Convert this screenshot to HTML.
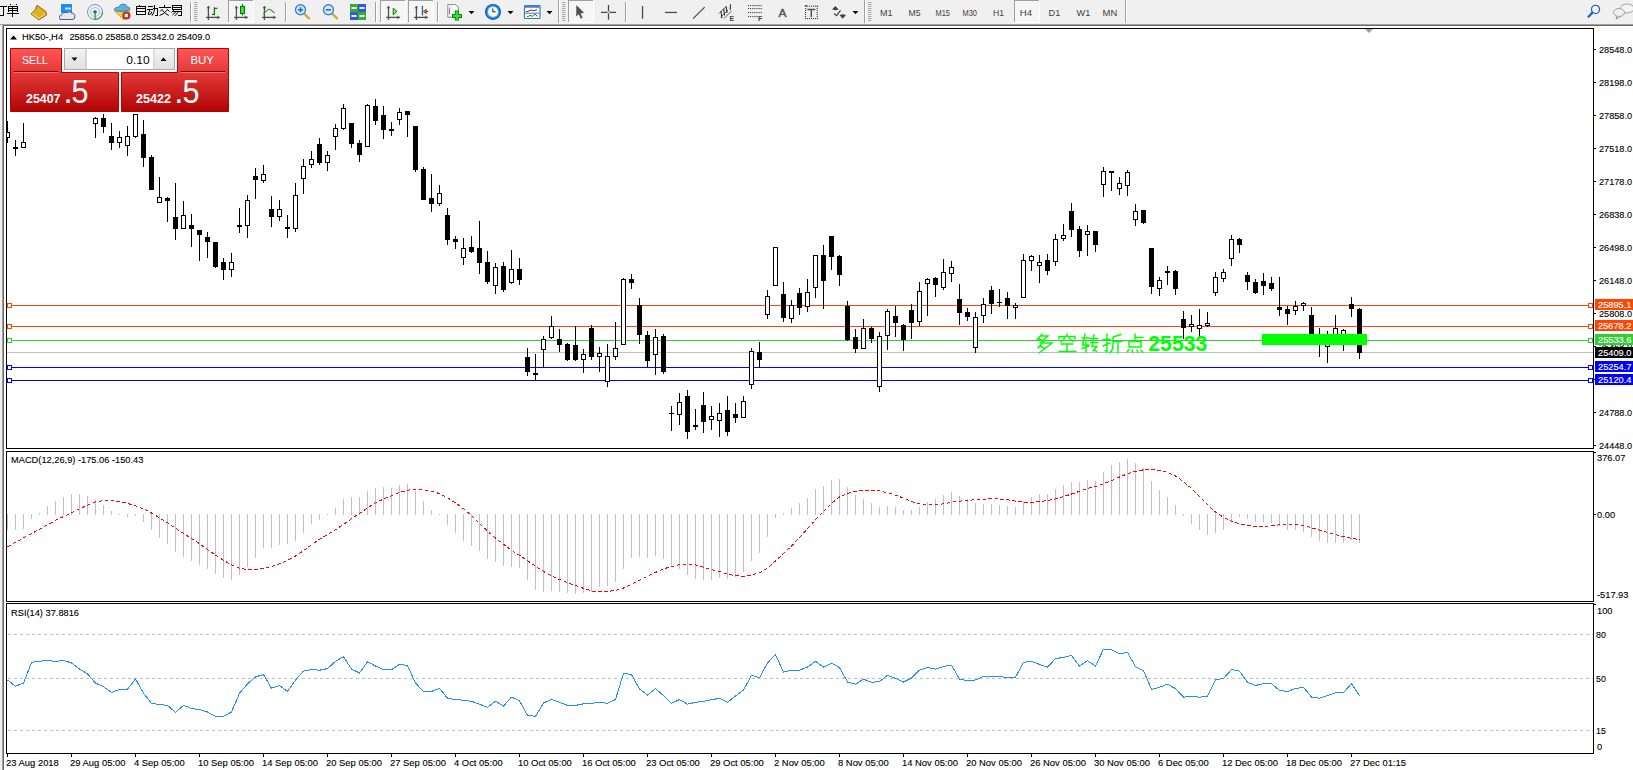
<!DOCTYPE html>
<html><head><meta charset="utf-8"><style>
html,body{margin:0;padding:0;background:#f0f0f0;width:1633px;height:770px;overflow:hidden}
svg{display:block;position:absolute;left:0;top:0}
</style></head><body>
<svg width="1633" height="770" viewBox="0 0 1633 770">
<rect x="0" y="0" width="1633" height="24" fill="#f0f0f0"/>
<path d="M36.9 5.3L45.8 11.5L46.7 14.9L38.7 19.8L31 13.9L35.3 9.7Z" fill="#e2b020" stroke="#9a5c10" stroke-width="1"/><path d="M32 13.5L38.8 18.5L45.5 14" fill="none" stroke="#f6e090" stroke-width="1"/><rect x="61" y="4" width="11" height="9" fill="#1890f0"/><rect x="65" y="7.5" width="6" height="2" fill="#c8e8ff"/><path d="M60 19.5Q58.5 15 62 14.5Q63 11.5 67 12.5Q69.5 10.5 71.5 13Q75.5 13 74.8 17Q75 19.5 72 19.5Z" fill="#e4e8f0" stroke="#4a5a8a" stroke-width="1"/><circle cx="95" cy="12" r="7.5" fill="none" stroke="#5080d0" stroke-width="1" opacity="0.8"/><circle cx="95" cy="12" r="4.5" fill="none" stroke="#90b8d8" stroke-width="1" opacity="0.8"/><path d="M95 19.5A7.5 7.5 0 0 0 102.5 12" fill="none" stroke="#40a040" stroke-width="1.2"/><circle cx="95" cy="12" r="1.8" fill="#2050c0"/><rect x="94.6" y="12" width="1.2" height="8" fill="#20a020"/><path d="M114.5 11L124 20L128 14L130 10Z" fill="#f0d040" stroke="#c09020" stroke-width="0.8"/><path d="M114 9.5Q115 7 119 7Q120 4 123 4Q127 4 127 7Q130 7 130 9Q128 11 122 11.5Q116 11.5 114 9.5Z" fill="#60b0e0" stroke="#2080b0" stroke-width="0.8"/><circle cx="126.4" cy="15.5" r="4" fill="#d02010"/><rect x="124.7" y="13.8" width="3.4" height="3.4" fill="#fff"/><rect x="139" y="5" width="1" height="1" fill="#000"/><rect x="136" y="6" width="1" height="9" fill="#000"/><rect x="145" y="6" width="1" height="9" fill="#000"/><rect x="136" y="6" width="10" height="1" fill="#000"/><rect x="137" y="8" width="8" height="1" fill="#000"/><rect x="137" y="11" width="8" height="1" fill="#000"/><rect x="137" y="14" width="8" height="1" fill="#000"/><rect x="148" y="6" width="5" height="1" fill="#000"/><rect x="147" y="9" width="6" height="1" fill="#000"/><rect x="153" y="8" width="5" height="1" fill="#000"/><rect x="157" y="8" width="1" height="7" fill="#000"/><rect x="155" y="15" width="3" height="1" fill="#000"/><path d="M154.5 5V9Q154.2 13 152 15.8M149.8 9.5L148.2 14.5L151.6 13.8M151 11.5L152 13.5" stroke="#000" stroke-width="1" fill="none"/><rect x="164" y="5" width="1" height="2" fill="#000"/><rect x="159" y="7" width="12" height="1" fill="#000"/><path d="M162.5 9L160 11.5M166.8 9L169.5 11.5M162.3 10.2Q165 14 168.8 15.5M167 10.2Q164.5 14 159.5 15.5" stroke="#000" stroke-width="1" fill="none"/><rect x="172" y="5" width="1" height="5" fill="#000"/><rect x="181" y="5" width="1" height="5" fill="#000"/><rect x="172" y="5" width="10" height="1" fill="#000"/><rect x="173" y="7" width="8" height="1" fill="#000"/><rect x="173" y="9" width="8" height="1" fill="#000"/><rect x="173" y="11" width="9" height="1" fill="#000"/><rect x="181" y="11" width="1" height="5" fill="#000"/><rect x="178" y="15" width="3" height="1" fill="#000"/><path d="M174 10.2L171.5 12.5M176.3 11.5L172.5 15M178.8 11.5L175 15.8" stroke="#000" stroke-width="1" fill="none"/><rect x="0" y="6" width="7" height="1" fill="#000"/><rect x="3" y="6" width="1" height="10" fill="#000"/><rect x="0" y="15" width="3" height="1" fill="#000"/><rect x="10" y="4" width="1" height="1" fill="#000"/><rect x="16" y="4" width="1" height="1" fill="#000"/><rect x="8" y="6" width="1" height="6" fill="#000"/><rect x="17" y="6" width="1" height="6" fill="#000"/><rect x="8" y="6" width="10" height="1" fill="#000"/><rect x="9" y="8" width="8" height="1" fill="#000"/><rect x="9" y="10" width="8" height="1" fill="#000"/><rect x="12" y="6" width="1" height="11" fill="#000"/><rect x="7" y="13" width="12" height="1" fill="#000"/><rect x="190" y="2" width="1" height="20" fill="#a0a0a0"/><rect x="191" y="2" width="1" height="20" fill="#ffffff"/><rect x="194" y="2" width="3.5" height="1" fill="#a8a8a8"/><rect x="194" y="4" width="3.5" height="1" fill="#a8a8a8"/><rect x="194" y="6" width="3.5" height="1" fill="#a8a8a8"/><rect x="194" y="8" width="3.5" height="1" fill="#a8a8a8"/><rect x="194" y="10" width="3.5" height="1" fill="#a8a8a8"/><rect x="194" y="12" width="3.5" height="1" fill="#a8a8a8"/><rect x="194" y="14" width="3.5" height="1" fill="#a8a8a8"/><rect x="194" y="16" width="3.5" height="1" fill="#a8a8a8"/><rect x="194" y="18" width="3.5" height="1" fill="#a8a8a8"/><rect x="194" y="20" width="3.5" height="1" fill="#a8a8a8"/><rect x="207.75" y="6" width="1.3" height="14" fill="#505050"/><rect x="206.00" y="16.75" width="13.8" height="1.3" fill="#505050"/><path d="M206.60 8.2L208.40 6L210.20 8.2Z" fill="#505050"/><path d="M217.20 15.60L219.70 17.40L217.20 19.20Z" fill="#505050"/><path d="M214.4 7.3V15.2M214.4 8.4H217.4M214.4 14.4H212" fill="none" stroke="#008000" stroke-width="1.3"/><rect x="228" y="0" width="26" height="23" fill="#ffffff"/><rect x="229" y="1" width="24" height="21" fill="#f6f6f6"/><rect x="228" y="0" width="25" height="1" fill="#a0a0a0"/><rect x="228" y="0" width="1" height="22" fill="#a0a0a0"/><rect x="235.75" y="6" width="1.3" height="14" fill="#505050"/><rect x="234.00" y="16.75" width="13.8" height="1.3" fill="#505050"/><path d="M234.60 8.2L236.40 6L238.20 8.2Z" fill="#505050"/><path d="M245.20 15.60L247.70 17.40L245.20 19.20Z" fill="#505050"/><rect x="240.5" y="6.5" width="4" height="7" fill="#40e040" stroke="#008000" stroke-width="1.1"/><path d="M242.5 4V6.5M242.5 13.5V15.6" stroke="#008000" stroke-width="1.1"/><rect x="263.75" y="6" width="1.3" height="14" fill="#505050"/><rect x="262.00" y="16.75" width="13.8" height="1.3" fill="#505050"/><path d="M262.60 8.2L264.40 6L266.20 8.2Z" fill="#505050"/><path d="M273.20 15.60L275.70 17.40L273.20 19.20Z" fill="#505050"/><path d="M263.2 14.5Q266 11 268 9.6Q269.5 8.8 271 10L274.5 13" fill="none" stroke="#30a030" stroke-width="1.1"/><rect x="285" y="2" width="1" height="20" fill="#a0a0a0"/><rect x="286" y="2" width="1" height="20" fill="#ffffff"/><path d="M304.5 14L309.0 18.5" stroke="#d4a830" stroke-width="2.4" stroke-linecap="round"/><circle cx="300.5" cy="9.8" r="5" fill="#d4ecff" stroke="#3a84d0" stroke-width="1.4"/><path d="M297.9 9.8H303.1" stroke="#2a6cc0" stroke-width="1.6"/><path d="M300.5 7.2V12.4" stroke="#2a6cc0" stroke-width="1.6"/><path d="M332.5 14L337.0 18.5" stroke="#d4a830" stroke-width="2.4" stroke-linecap="round"/><circle cx="328.5" cy="9.8" r="5" fill="#d4ecff" stroke="#3a84d0" stroke-width="1.4"/><path d="M325.9 9.8H331.1" stroke="#2a6cc0" stroke-width="1.6"/><rect x="350" y="4" width="8" height="8" fill="#40a830"/><rect x="358" y="4" width="8" height="8" fill="#2a5fd0"/><rect x="350" y="12" width="8" height="8" fill="#2a5fd0"/><rect x="358" y="12" width="8" height="8" fill="#40a830"/><path d="M351.5 8H356.5M359.5 8H364.5M351.5 16H356.5M359.5 16H364.5" stroke="#fff" stroke-width="2"/><path d="M352.5 8H355.5M360.5 8H363.5M352.5 16H355.5M360.5 16H363.5" stroke="#a0c0a0" stroke-width="0.6"/><rect x="375" y="2" width="1" height="20" fill="#a0a0a0"/><rect x="376" y="2" width="1" height="20" fill="#ffffff"/><rect x="380" y="0" width="26" height="23" fill="#ffffff"/><rect x="381" y="1" width="24" height="21" fill="#f6f6f6"/><rect x="380" y="0" width="25" height="1" fill="#a0a0a0"/><rect x="380" y="0" width="1" height="22" fill="#a0a0a0"/><rect x="387.85" y="6" width="1.3" height="14" fill="#505050"/><rect x="386.10" y="16.75" width="13.8" height="1.3" fill="#505050"/><path d="M386.70 8.2L388.50 6L390.30 8.2Z" fill="#505050"/><path d="M397.30 15.60L399.80 17.40L397.30 19.20Z" fill="#505050"/><path d="M393.2 8L397 11.5L393.2 15Z" fill="#60f060" stroke="#009000" stroke-width="1"/><rect x="408" y="0" width="26" height="23" fill="#ffffff"/><rect x="409" y="1" width="24" height="21" fill="#f6f6f6"/><rect x="408" y="0" width="25" height="1" fill="#a0a0a0"/><rect x="408" y="0" width="1" height="22" fill="#a0a0a0"/><rect x="415.75" y="6" width="1.3" height="14" fill="#505050"/><rect x="414.00" y="16.75" width="13.8" height="1.3" fill="#505050"/><path d="M414.60 8.2L416.40 6L418.20 8.2Z" fill="#505050"/><path d="M425.20 15.60L427.70 17.40L425.20 19.20Z" fill="#505050"/><rect x="421.8" y="6" width="1.3" height="9.5" fill="#1a6a9a"/><path d="M428 11.5H424.5" stroke="#902000" stroke-width="1.3"/><path d="M423.4 11.5L426.2 9.2V13.8Z" fill="#ff6010" stroke="#902000" stroke-width="0.6"/><rect x="437" y="2" width="1" height="20" fill="#a0a0a0"/><rect x="438" y="2" width="1" height="20" fill="#ffffff"/><path d="M447.8 4.6H455.8L458.3 7.1V17.2H447.8Z" fill="#fafafa" stroke="#8a8a8a" stroke-width="1"/><path d="M450.6 7.5Q449.5 8 449.5 10V14" stroke="#404040" stroke-width="0.7" fill="none"/><path d="M456.8 10.5V20.5M452 15.9H462" stroke="#007a00" stroke-width="4"/><path d="M456.8 11.3V19.7M452.8 15.9H461.2" stroke="#30e030" stroke-width="2.2"/><path d="M468.5 11h6l-3 3.2z" fill="#000"/><circle cx="493" cy="11.9" r="8" fill="#0a5cc0"/><circle cx="493" cy="11.9" r="6.6" fill="#3a9af0"/><circle cx="493" cy="11.9" r="5.1" fill="#f8f8f8"/><path d="M492.8 8.5V11.8H495.5" stroke="#202020" stroke-width="1" fill="none"/><path d="M507.5 11h6l-3 3.2z" fill="#000"/><rect x="524.5" y="5.5" width="15.5" height="13" rx="0.8" fill="#fff" stroke="#3a78c8" stroke-width="1.2"/><rect x="525" y="6" width="14.5" height="1.8" fill="#4a88d8"/><path d="M525.2 13.2H539.5" stroke="#3a78c8" stroke-width="1"/><path d="M526 11.5H528L530 10.2H531.5L533 10.5H535L537 9.5" stroke="#a02010" stroke-width="1" fill="none"/><path d="M527 16.4H528.5L530 15.3L532 16.4L535 14.2L537.5 16.4" stroke="#108010" stroke-width="1" fill="none"/><path d="M546.5 11h6l-3 3.2z" fill="#000"/><rect x="558" y="0" width="1" height="23" fill="#a0a0a0"/><rect x="559" y="0" width="1" height="23" fill="#fff"/><rect x="562" y="2" width="3.5" height="1" fill="#a8a8a8"/><rect x="562" y="4" width="3.5" height="1" fill="#a8a8a8"/><rect x="562" y="6" width="3.5" height="1" fill="#a8a8a8"/><rect x="562" y="8" width="3.5" height="1" fill="#a8a8a8"/><rect x="562" y="10" width="3.5" height="1" fill="#a8a8a8"/><rect x="562" y="12" width="3.5" height="1" fill="#a8a8a8"/><rect x="562" y="14" width="3.5" height="1" fill="#a8a8a8"/><rect x="562" y="16" width="3.5" height="1" fill="#a8a8a8"/><rect x="562" y="18" width="3.5" height="1" fill="#a8a8a8"/><rect x="562" y="20" width="3.5" height="1" fill="#a8a8a8"/><rect x="568" y="0" width="26" height="23" fill="#ffffff"/><rect x="569" y="1" width="24" height="21" fill="#f6f6f6"/><rect x="568" y="0" width="25" height="1" fill="#a0a0a0"/><rect x="568" y="0" width="1" height="22" fill="#a0a0a0"/><path d="M576.3 5V16.5L578.8 14.2L580.8 18.8L582.6 18L580.6 13.4L584 12.8Z" fill="#505050"/><path d="M601 12.45H607.6M609.4 12.45H616M608.5 5V11.6M608.5 13.3V19.8" stroke="#4a4a4a" stroke-width="1.3"/><rect x="625" y="2" width="1" height="20" fill="#a0a0a0"/><rect x="626" y="2" width="1" height="20" fill="#ffffff"/><rect x="641.9" y="6" width="1.3" height="12.8" fill="#4a4a4a"/><rect x="665" y="11.8" width="12" height="1.3" fill="#4a4a4a"/><path d="M693.1 18.6L704.7 7.1" stroke="#4a4a4a" stroke-width="1.2"/><path d="M719 13.5L726.5 6M720.5 17.5L728 10M724 18.5L731.5 11" stroke="#4a4a4a" stroke-width="0.9"/><path d="M721 11L721.8 18M723.6 8.7L724.6 15.4M726.2 6.5L727 13M730.5 4.2L730.2 10" stroke="#303030" stroke-width="1.1"/><text x="729.6" y="21" style="font-family:'Liberation Sans',sans-serif;font-size:7px;font-weight:bold" fill="#404040">E</text><g fill="#404040"><rect x="748.00" y="5" width="1.1" height="1.1"/><rect x="750.10" y="5" width="1.1" height="1.1"/><rect x="752.20" y="5" width="1.1" height="1.1"/><rect x="754.30" y="5" width="1.1" height="1.1"/><rect x="756.40" y="5" width="1.1" height="1.1"/><rect x="758.50" y="5" width="1.1" height="1.1"/><rect x="760.60" y="5" width="1.1" height="1.1"/><rect x="748.00" y="8" width="1.1" height="1.1"/><rect x="750.10" y="8" width="1.1" height="1.1"/><rect x="752.20" y="8" width="1.1" height="1.1"/><rect x="754.30" y="8" width="1.1" height="1.1"/><rect x="756.40" y="8" width="1.1" height="1.1"/><rect x="758.50" y="8" width="1.1" height="1.1"/><rect x="760.60" y="8" width="1.1" height="1.1"/><rect x="748.00" y="12" width="1.1" height="1.1"/><rect x="750.10" y="12" width="1.1" height="1.1"/><rect x="752.20" y="12" width="1.1" height="1.1"/><rect x="754.30" y="12" width="1.1" height="1.1"/><rect x="756.40" y="12" width="1.1" height="1.1"/><rect x="758.50" y="12" width="1.1" height="1.1"/><rect x="760.60" y="12" width="1.1" height="1.1"/><rect x="748.00" y="16" width="1.1" height="1.1"/><rect x="750.15" y="16" width="1.1" height="1.1"/><rect x="752.30" y="16" width="1.1" height="1.1"/><rect x="754.45" y="16" width="1.1" height="1.1"/><rect x="756.60" y="16" width="1.1" height="1.1"/></g><text x="758" y="21" style="font-family:'Liberation Sans',sans-serif;font-size:7px;font-weight:bold" fill="#404040">F</text><text x="778.6" y="17" textLength="8" lengthAdjust="spacingAndGlyphs" style="font-family:'Liberation Sans',sans-serif;font-size:11.5px" fill="#505050" stroke="#505050" stroke-width="0.4">A</text><g fill="#404040"><rect x="805.0" y="18" width="1.1" height="1.1"/><rect x="807.0" y="18" width="1.1" height="1.1"/><rect x="809.0" y="18" width="1.1" height="1.1"/><rect x="811.0" y="18" width="1.1" height="1.1"/><rect x="813.0" y="18" width="1.1" height="1.1"/><rect x="815.0" y="18" width="1.1" height="1.1"/><rect x="817.0" y="18" width="1.1" height="1.1"/><rect x="807.0" y="5.6" width="1.1" height="1.1"/><rect x="809.0" y="5.6" width="1.1" height="1.1"/><rect x="811.0" y="5.6" width="1.1" height="1.1"/><rect x="813.0" y="5.6" width="1.1" height="1.1"/><rect x="815.0" y="5.6" width="1.1" height="1.1"/><rect x="817.0" y="5.6" width="1.1" height="1.1"/><rect x="805" y="8.0" width="1.1" height="1.1"/><rect x="816.6" y="6.0" width="1.1" height="1.1"/><rect x="805" y="10.0" width="1.1" height="1.1"/><rect x="816.6" y="8.0" width="1.1" height="1.1"/><rect x="805" y="12.0" width="1.1" height="1.1"/><rect x="816.6" y="10.0" width="1.1" height="1.1"/><rect x="805" y="14.0" width="1.1" height="1.1"/><rect x="816.6" y="12.0" width="1.1" height="1.1"/><rect x="805" y="16.0" width="1.1" height="1.1"/><rect x="816.6" y="14.0" width="1.1" height="1.1"/><rect x="805" y="18.0" width="1.1" height="1.1"/><rect x="816.6" y="16.0" width="1.1" height="1.1"/></g><rect x="804.8" y="5" width="2" height="1.6" fill="#404040"/><path d="M807.3 9.4H815.3M811.3 9.4V17" stroke="#505050" stroke-width="1.5"/><path d="M832 9.6L835.4 6L838.6 9.6L835.4 10.2Z M839.6 15L842.6 18.8L846 15L842.6 14.2Z" fill="#404040"/><path d="M834 13.5L836.5 15.6L840.6 10.4" stroke="#404040" stroke-width="1.2" fill="none"/><path d="M852.5 11h6l-3 3.2z" fill="#000"/><rect x="864" y="0" width="1" height="23" fill="#a0a0a0"/><rect x="865" y="0" width="1" height="23" fill="#fff"/><rect x="868" y="2" width="3.5" height="1" fill="#a8a8a8"/><rect x="868" y="4" width="3.5" height="1" fill="#a8a8a8"/><rect x="868" y="6" width="3.5" height="1" fill="#a8a8a8"/><rect x="868" y="8" width="3.5" height="1" fill="#a8a8a8"/><rect x="868" y="10" width="3.5" height="1" fill="#a8a8a8"/><rect x="868" y="12" width="3.5" height="1" fill="#a8a8a8"/><rect x="868" y="14" width="3.5" height="1" fill="#a8a8a8"/><rect x="868" y="16" width="3.5" height="1" fill="#a8a8a8"/><rect x="868" y="18" width="3.5" height="1" fill="#a8a8a8"/><rect x="868" y="20" width="3.5" height="1" fill="#a8a8a8"/><rect x="1014" y="0" width="26" height="23" fill="#ffffff"/><rect x="1015" y="1" width="24" height="21" fill="#f6f6f6"/><rect x="1014" y="0" width="25" height="1" fill="#a0a0a0"/><rect x="1014" y="0" width="1" height="22" fill="#a0a0a0"/><text x="880" y="16" textLength="12.5" lengthAdjust="spacingAndGlyphs" style="font-family:'Liberation Sans',sans-serif;font-size:9.8px" fill="#404040">M1</text><text x="908.5" y="16" textLength="12" lengthAdjust="spacingAndGlyphs" style="font-family:'Liberation Sans',sans-serif;font-size:9.8px" fill="#404040">M5</text><text x="935.5" y="16" textLength="14.5" lengthAdjust="spacingAndGlyphs" style="font-family:'Liberation Sans',sans-serif;font-size:9.8px" fill="#404040">M15</text><text x="962.5" y="16" textLength="14.5" lengthAdjust="spacingAndGlyphs" style="font-family:'Liberation Sans',sans-serif;font-size:9.8px" fill="#404040">M30</text><text x="993" y="16" textLength="11" lengthAdjust="spacingAndGlyphs" style="font-family:'Liberation Sans',sans-serif;font-size:9.8px" fill="#404040">H1</text><text x="1019.7" y="16" textLength="12.3" lengthAdjust="spacingAndGlyphs" style="font-family:'Liberation Sans',sans-serif;font-size:9.8px" fill="#404040">H4</text><text x="1048.6" y="16" textLength="11.7" lengthAdjust="spacingAndGlyphs" style="font-family:'Liberation Sans',sans-serif;font-size:9.8px" fill="#404040">D1</text><text x="1076.6" y="16" textLength="13.7" lengthAdjust="spacingAndGlyphs" style="font-family:'Liberation Sans',sans-serif;font-size:9.8px" fill="#404040">W1</text><text x="1102.6" y="16" textLength="14.7" lengthAdjust="spacingAndGlyphs" style="font-family:'Liberation Sans',sans-serif;font-size:9.8px" fill="#404040">MN</text><rect x="1125" y="0" width="1" height="23" fill="#a0a0a0"/><rect x="1126" y="0" width="1" height="23" fill="#fff"/><circle cx="1595.5" cy="9.4" r="4" fill="#fff" stroke="#2060d0" stroke-width="1.3"/><path d="M1592.5 12.5L1588.5 16.8" stroke="#2060d0" stroke-width="2.2" stroke-linecap="round"/><ellipse cx="1627" cy="8.5" rx="7" ry="4.5" fill="#f4f4f4" stroke="#a0a0a0" stroke-width="1"/><ellipse cx="1619" cy="12.5" rx="5.5" ry="4" fill="#f0f0f0" stroke="#a0a0a0" stroke-width="1"/><path d="M1617 16L1616 19L1620 16.5" fill="#e0e0e0" stroke="#808080" stroke-width="0.8"/>
<rect x="0" y="24" width="1633" height="1" fill="#a0a0a0"/><rect x="2" y="25" width="1631" height="1" fill="#696969"/><rect x="2" y="25" width="1" height="745" fill="#a0a0a0"/><rect x="3" y="25" width="1" height="745" fill="#696969"/><rect x="4" y="26" width="1629" height="744" fill="#ffffff"/><rect x="6.5" y="28.5" width="1587" height="420" fill="#fff" stroke="#000" stroke-width="1"/><rect x="6.5" y="451.5" width="1587" height="150" fill="#fff" stroke="#000" stroke-width="1"/><rect x="6.5" y="603.5" width="1587" height="150" fill="#fff" stroke="#000" stroke-width="1"/><defs><clipPath id="cm"><rect x="7" y="29" width="1586" height="419"/></clipPath><clipPath id="cd"><rect x="7" y="452" width="1586" height="149"/></clipPath><clipPath id="cr"><rect x="7" y="604" width="1586" height="149"/></clipPath></defs><rect x="1594" y="49" width="2" height="1" fill="#000"/><text x="1599" y="52.5" textLength="33.02" lengthAdjust="spacingAndGlyphs" style="font-family:'Liberation Sans',sans-serif;font-size:9.5px" fill="#000" stroke="#000" stroke-width="0.12">28548.0</text><rect x="1594" y="82" width="2" height="1" fill="#000"/><text x="1599" y="85.5" textLength="33.02" lengthAdjust="spacingAndGlyphs" style="font-family:'Liberation Sans',sans-serif;font-size:9.5px" fill="#000" stroke="#000" stroke-width="0.12">28198.0</text><rect x="1594" y="115" width="2" height="1" fill="#000"/><text x="1599" y="118.5" textLength="33.02" lengthAdjust="spacingAndGlyphs" style="font-family:'Liberation Sans',sans-serif;font-size:9.5px" fill="#000" stroke="#000" stroke-width="0.12">27858.0</text><rect x="1594" y="148" width="2" height="1" fill="#000"/><text x="1599" y="151.5" textLength="33.02" lengthAdjust="spacingAndGlyphs" style="font-family:'Liberation Sans',sans-serif;font-size:9.5px" fill="#000" stroke="#000" stroke-width="0.12">27518.0</text><rect x="1594" y="181" width="2" height="1" fill="#000"/><text x="1599" y="184.5" textLength="33.02" lengthAdjust="spacingAndGlyphs" style="font-family:'Liberation Sans',sans-serif;font-size:9.5px" fill="#000" stroke="#000" stroke-width="0.12">27178.0</text><rect x="1594" y="214" width="2" height="1" fill="#000"/><text x="1599" y="217.5" textLength="33.02" lengthAdjust="spacingAndGlyphs" style="font-family:'Liberation Sans',sans-serif;font-size:9.5px" fill="#000" stroke="#000" stroke-width="0.12">26838.0</text><rect x="1594" y="247" width="2" height="1" fill="#000"/><text x="1599" y="250.5" textLength="33.02" lengthAdjust="spacingAndGlyphs" style="font-family:'Liberation Sans',sans-serif;font-size:9.5px" fill="#000" stroke="#000" stroke-width="0.12">26498.0</text><rect x="1594" y="280" width="2" height="1" fill="#000"/><text x="1599" y="283.5" textLength="33.02" lengthAdjust="spacingAndGlyphs" style="font-family:'Liberation Sans',sans-serif;font-size:9.5px" fill="#000" stroke="#000" stroke-width="0.12">26148.0</text><rect x="1594" y="313" width="2" height="1" fill="#000"/><text x="1599" y="316.5" textLength="33.02" lengthAdjust="spacingAndGlyphs" style="font-family:'Liberation Sans',sans-serif;font-size:9.5px" fill="#000" stroke="#000" stroke-width="0.12">25808.0</text><rect x="1594" y="346" width="2" height="1" fill="#000"/><text x="1599" y="349.5" textLength="33.02" lengthAdjust="spacingAndGlyphs" style="font-family:'Liberation Sans',sans-serif;font-size:9.5px" fill="#000" stroke="#000" stroke-width="0.12">25468.0</text><rect x="1594" y="379" width="2" height="1" fill="#000"/><text x="1599" y="382.5" textLength="33.02" lengthAdjust="spacingAndGlyphs" style="font-family:'Liberation Sans',sans-serif;font-size:9.5px" fill="#000" stroke="#000" stroke-width="0.12">25128.0</text><rect x="1594" y="412" width="2" height="1" fill="#000"/><text x="1599" y="415.5" textLength="33.02" lengthAdjust="spacingAndGlyphs" style="font-family:'Liberation Sans',sans-serif;font-size:9.5px" fill="#000" stroke="#000" stroke-width="0.12">24788.0</text><rect x="1594" y="445" width="2" height="1" fill="#000"/><text x="1599" y="448.5" textLength="33.02" lengthAdjust="spacingAndGlyphs" style="font-family:'Liberation Sans',sans-serif;font-size:9.5px" fill="#000" stroke="#000" stroke-width="0.12">24448.0</text><rect x="7" y="305" width="1586" height="1" fill="#ff4500"/><rect x="7.5" y="303.5" width="4" height="4" fill="#fff" stroke="#ff4500" stroke-width="1"/><rect x="1588.5" y="303.5" width="4" height="4" fill="#fff" stroke="#ff4500" stroke-width="1"/><rect x="7" y="326" width="1586" height="1" fill="#ff4500"/><rect x="7.5" y="324.5" width="4" height="4" fill="#fff" stroke="#ff4500" stroke-width="1"/><rect x="1588.5" y="324.5" width="4" height="4" fill="#fff" stroke="#ff4500" stroke-width="1"/><rect x="7" y="340" width="1586" height="1" fill="#32cd32"/><rect x="7.5" y="338.5" width="4" height="4" fill="#fff" stroke="#32cd32" stroke-width="1"/><rect x="1588.5" y="338.5" width="4" height="4" fill="#fff" stroke="#32cd32" stroke-width="1"/><rect x="7" y="352" width="1586" height="1" fill="#c0c0c0"/><rect x="7" y="367" width="1586" height="1" fill="#0000ff"/><rect x="7.5" y="365.5" width="4" height="4" fill="#fff" stroke="#0000ff" stroke-width="1"/><rect x="1588.5" y="365.5" width="4" height="4" fill="#fff" stroke="#0000ff" stroke-width="1"/><rect x="7" y="380" width="1586" height="1" fill="#0000ff"/><rect x="7.5" y="378.5" width="4" height="4" fill="#fff" stroke="#0000ff" stroke-width="1"/><rect x="1588.5" y="378.5" width="4" height="4" fill="#fff" stroke="#0000ff" stroke-width="1"/><g clip-path="url(#cm)" shape-rendering="crispEdges"><rect x="7" y="121" width="1" height="22" fill="#000"/><rect x="5" y="132" width="5" height="6" fill="#000"/><rect x="6" y="133" width="3" height="4" fill="#fff"/><rect x="15" y="140" width="1" height="16" fill="#000"/><rect x="13" y="147" width="5" height="2" fill="#000"/><rect x="23" y="123" width="1" height="25" fill="#000"/><rect x="21" y="142" width="5" height="6" fill="#000"/><rect x="22" y="143" width="3" height="4" fill="#fff"/><rect x="95" y="117" width="1" height="21" fill="#000"/><rect x="93" y="118" width="5" height="6" fill="#000"/><rect x="94" y="119" width="3" height="4" fill="#fff"/><rect x="103" y="114" width="1" height="19" fill="#000"/><rect x="101" y="118" width="5" height="9" fill="#000"/><rect x="111" y="123" width="1" height="27" fill="#000"/><rect x="109" y="136" width="5" height="7" fill="#000"/><rect x="119" y="131" width="1" height="17" fill="#000"/><rect x="117" y="137" width="5" height="6" fill="#000"/><rect x="118" y="138" width="3" height="4" fill="#fff"/><rect x="127" y="126" width="1" height="30" fill="#000"/><rect x="125" y="136" width="5" height="10" fill="#000"/><rect x="126" y="137" width="3" height="8" fill="#fff"/><rect x="135" y="114" width="1" height="24" fill="#000"/><rect x="133" y="114" width="5" height="23" fill="#000"/><rect x="134" y="115" width="3" height="21" fill="#fff"/><rect x="143" y="120" width="1" height="47" fill="#000"/><rect x="141" y="134" width="5" height="24" fill="#000"/><rect x="151" y="155" width="1" height="35" fill="#000"/><rect x="149" y="157" width="5" height="33" fill="#000"/><rect x="159" y="177" width="1" height="26" fill="#000"/><rect x="157" y="197" width="5" height="6" fill="#000"/><rect x="158" y="198" width="3" height="4" fill="#fff"/><rect x="167" y="197" width="1" height="25" fill="#000"/><rect x="165" y="198" width="5" height="3" fill="#000"/><rect x="175" y="183" width="1" height="57" fill="#000"/><rect x="173" y="217" width="5" height="12" fill="#000"/><rect x="183" y="201" width="1" height="28" fill="#000"/><rect x="181" y="215" width="5" height="14" fill="#000"/><rect x="182" y="216" width="3" height="12" fill="#fff"/><rect x="191" y="214" width="1" height="33" fill="#000"/><rect x="189" y="225" width="5" height="4" fill="#000"/><rect x="199" y="230" width="1" height="31" fill="#000"/><rect x="197" y="230" width="5" height="5" fill="#000"/><rect x="207" y="232" width="1" height="26" fill="#000"/><rect x="205" y="237" width="5" height="5" fill="#000"/><rect x="215" y="242" width="1" height="26" fill="#000"/><rect x="213" y="242" width="5" height="25" fill="#000"/><rect x="223" y="258" width="1" height="22" fill="#000"/><rect x="221" y="262" width="5" height="8" fill="#000"/><rect x="231" y="253" width="1" height="24" fill="#000"/><rect x="229" y="262" width="5" height="8" fill="#000"/><rect x="230" y="263" width="3" height="6" fill="#fff"/><rect x="239" y="208" width="1" height="25" fill="#000"/><rect x="237" y="225" width="5" height="2" fill="#000"/><rect x="247" y="195" width="1" height="43" fill="#000"/><rect x="245" y="200" width="5" height="26" fill="#000"/><rect x="246" y="201" width="3" height="24" fill="#fff"/><rect x="255" y="168" width="1" height="31" fill="#000"/><rect x="253" y="176" width="5" height="4" fill="#000"/><rect x="263" y="165" width="1" height="18" fill="#000"/><rect x="261" y="174" width="5" height="7" fill="#000"/><rect x="262" y="175" width="3" height="5" fill="#fff"/><rect x="271" y="196" width="1" height="31" fill="#000"/><rect x="269" y="209" width="5" height="8" fill="#000"/><rect x="279" y="200" width="1" height="21" fill="#000"/><rect x="277" y="209" width="5" height="8" fill="#000"/><rect x="278" y="210" width="3" height="6" fill="#fff"/><rect x="287" y="215" width="1" height="23" fill="#000"/><rect x="285" y="227" width="5" height="2" fill="#000"/><rect x="295" y="183" width="1" height="49" fill="#000"/><rect x="293" y="195" width="5" height="34" fill="#000"/><rect x="294" y="196" width="3" height="32" fill="#fff"/><rect x="303" y="159" width="1" height="35" fill="#000"/><rect x="301" y="166" width="5" height="13" fill="#000"/><rect x="302" y="167" width="3" height="11" fill="#fff"/><rect x="311" y="151" width="1" height="17" fill="#000"/><rect x="309" y="159" width="5" height="6" fill="#000"/><rect x="310" y="160" width="3" height="4" fill="#fff"/><rect x="319" y="138" width="1" height="27" fill="#000"/><rect x="317" y="144" width="5" height="19" fill="#000"/><rect x="327" y="151" width="1" height="20" fill="#000"/><rect x="325" y="155" width="5" height="8" fill="#000"/><rect x="326" y="156" width="3" height="6" fill="#fff"/><rect x="335" y="124" width="1" height="26" fill="#000"/><rect x="333" y="128" width="5" height="9" fill="#000"/><rect x="334" y="129" width="3" height="7" fill="#fff"/><rect x="343" y="104" width="1" height="26" fill="#000"/><rect x="341" y="108" width="5" height="21" fill="#000"/><rect x="342" y="109" width="3" height="19" fill="#fff"/><rect x="351" y="123" width="1" height="25" fill="#000"/><rect x="349" y="123" width="5" height="21" fill="#000"/><rect x="359" y="140" width="1" height="22" fill="#000"/><rect x="357" y="143" width="5" height="12" fill="#000"/><rect x="367" y="104" width="1" height="43" fill="#000"/><rect x="365" y="105" width="5" height="42" fill="#000"/><rect x="366" y="106" width="3" height="40" fill="#fff"/><rect x="375" y="99" width="1" height="26" fill="#000"/><rect x="373" y="106" width="5" height="15" fill="#000"/><rect x="383" y="106" width="1" height="33" fill="#000"/><rect x="381" y="115" width="5" height="15" fill="#000"/><rect x="391" y="122" width="1" height="14" fill="#000"/><rect x="389" y="129" width="5" height="2" fill="#000"/><rect x="399" y="108" width="1" height="17" fill="#000"/><rect x="397" y="112" width="5" height="8" fill="#000"/><rect x="398" y="113" width="3" height="6" fill="#fff"/><rect x="407" y="111" width="1" height="26" fill="#000"/><rect x="405" y="111" width="5" height="4" fill="#000"/><rect x="415" y="126" width="1" height="46" fill="#000"/><rect x="413" y="126" width="5" height="44" fill="#000"/><rect x="423" y="167" width="1" height="33" fill="#000"/><rect x="421" y="169" width="5" height="31" fill="#000"/><rect x="431" y="174" width="1" height="38" fill="#000"/><rect x="429" y="198" width="5" height="6" fill="#000"/><rect x="439" y="185" width="1" height="21" fill="#000"/><rect x="437" y="193" width="5" height="11" fill="#000"/><rect x="438" y="194" width="3" height="9" fill="#fff"/><rect x="447" y="208" width="1" height="37" fill="#000"/><rect x="445" y="215" width="5" height="25" fill="#000"/><rect x="455" y="236" width="1" height="13" fill="#000"/><rect x="453" y="239" width="5" height="3" fill="#000"/><rect x="463" y="238" width="1" height="27" fill="#000"/><rect x="461" y="248" width="5" height="10" fill="#000"/><rect x="462" y="249" width="3" height="8" fill="#fff"/><rect x="471" y="236" width="1" height="17" fill="#000"/><rect x="469" y="247" width="5" height="5" fill="#000"/><rect x="479" y="221" width="1" height="53" fill="#000"/><rect x="477" y="248" width="5" height="15" fill="#000"/><rect x="487" y="251" width="1" height="33" fill="#000"/><rect x="485" y="262" width="5" height="20" fill="#000"/><rect x="495" y="263" width="1" height="31" fill="#000"/><rect x="493" y="267" width="5" height="19" fill="#000"/><rect x="494" y="268" width="3" height="17" fill="#fff"/><rect x="503" y="262" width="1" height="30" fill="#000"/><rect x="501" y="266" width="5" height="24" fill="#000"/><rect x="511" y="250" width="1" height="34" fill="#000"/><rect x="509" y="269" width="5" height="14" fill="#000"/><rect x="510" y="270" width="3" height="12" fill="#fff"/><rect x="519" y="258" width="1" height="27" fill="#000"/><rect x="517" y="269" width="5" height="11" fill="#000"/><rect x="527" y="348" width="1" height="28" fill="#000"/><rect x="525" y="357" width="5" height="15" fill="#000"/><rect x="535" y="354" width="1" height="27" fill="#000"/><rect x="533" y="373" width="5" height="2" fill="#000"/><rect x="543" y="336" width="1" height="31" fill="#000"/><rect x="541" y="339" width="5" height="11" fill="#000"/><rect x="542" y="340" width="3" height="9" fill="#fff"/><rect x="551" y="316" width="1" height="23" fill="#000"/><rect x="549" y="326" width="5" height="12" fill="#000"/><rect x="550" y="327" width="3" height="10" fill="#fff"/><rect x="559" y="329" width="1" height="23" fill="#000"/><rect x="557" y="339" width="5" height="6" fill="#000"/><rect x="567" y="343" width="1" height="18" fill="#000"/><rect x="565" y="344" width="5" height="16" fill="#000"/><rect x="575" y="326" width="1" height="35" fill="#000"/><rect x="573" y="345" width="5" height="15" fill="#000"/><rect x="583" y="349" width="1" height="24" fill="#000"/><rect x="581" y="354" width="5" height="6" fill="#000"/><rect x="582" y="355" width="3" height="4" fill="#fff"/><rect x="591" y="325" width="1" height="35" fill="#000"/><rect x="589" y="328" width="5" height="29" fill="#000"/><rect x="599" y="347" width="1" height="25" fill="#000"/><rect x="597" y="353" width="5" height="4" fill="#000"/><rect x="598" y="354" width="3" height="2" fill="#fff"/><rect x="607" y="344" width="1" height="43" fill="#000"/><rect x="605" y="356" width="5" height="26" fill="#000"/><rect x="606" y="357" width="3" height="24" fill="#fff"/><rect x="615" y="322" width="1" height="38" fill="#000"/><rect x="613" y="348" width="5" height="9" fill="#000"/><rect x="614" y="349" width="3" height="7" fill="#fff"/><rect x="623" y="278" width="1" height="67" fill="#000"/><rect x="621" y="279" width="5" height="66" fill="#000"/><rect x="622" y="280" width="3" height="64" fill="#fff"/><rect x="631" y="274" width="1" height="15" fill="#000"/><rect x="629" y="279" width="5" height="4" fill="#000"/><rect x="639" y="298" width="1" height="46" fill="#000"/><rect x="637" y="305" width="5" height="30" fill="#000"/><rect x="647" y="331" width="1" height="36" fill="#000"/><rect x="645" y="335" width="5" height="26" fill="#000"/><rect x="655" y="329" width="1" height="46" fill="#000"/><rect x="653" y="337" width="5" height="18" fill="#000"/><rect x="654" y="338" width="3" height="16" fill="#fff"/><rect x="663" y="334" width="1" height="40" fill="#000"/><rect x="661" y="336" width="5" height="36" fill="#000"/><rect x="671" y="406" width="1" height="25" fill="#000"/><rect x="669" y="413" width="5" height="1" fill="#000"/><rect x="679" y="393" width="1" height="32" fill="#000"/><rect x="677" y="402" width="5" height="13" fill="#000"/><rect x="678" y="403" width="3" height="11" fill="#fff"/><rect x="687" y="390" width="1" height="49" fill="#000"/><rect x="685" y="396" width="5" height="36" fill="#000"/><rect x="695" y="409" width="1" height="21" fill="#000"/><rect x="693" y="425" width="5" height="2" fill="#000"/><rect x="703" y="392" width="1" height="41" fill="#000"/><rect x="701" y="405" width="5" height="17" fill="#000"/><rect x="711" y="406" width="1" height="24" fill="#000"/><rect x="709" y="416" width="5" height="4" fill="#000"/><rect x="710" y="417" width="3" height="2" fill="#fff"/><rect x="719" y="403" width="1" height="34" fill="#000"/><rect x="717" y="413" width="5" height="8" fill="#000"/><rect x="718" y="414" width="3" height="6" fill="#fff"/><rect x="727" y="396" width="1" height="40" fill="#000"/><rect x="725" y="410" width="5" height="22" fill="#000"/><rect x="735" y="403" width="1" height="20" fill="#000"/><rect x="733" y="414" width="5" height="4" fill="#000"/><rect x="743" y="396" width="1" height="22" fill="#000"/><rect x="741" y="401" width="5" height="17" fill="#000"/><rect x="742" y="402" width="3" height="15" fill="#fff"/><rect x="751" y="348" width="1" height="41" fill="#000"/><rect x="749" y="351" width="5" height="34" fill="#000"/><rect x="750" y="352" width="3" height="32" fill="#fff"/><rect x="759" y="342" width="1" height="26" fill="#000"/><rect x="757" y="352" width="5" height="8" fill="#000"/><rect x="767" y="290" width="1" height="29" fill="#000"/><rect x="765" y="296" width="5" height="19" fill="#000"/><rect x="766" y="297" width="3" height="17" fill="#fff"/><rect x="775" y="247" width="1" height="39" fill="#000"/><rect x="773" y="247" width="5" height="39" fill="#000"/><rect x="774" y="248" width="3" height="37" fill="#fff"/><rect x="783" y="282" width="1" height="40" fill="#000"/><rect x="781" y="294" width="5" height="24" fill="#000"/><rect x="791" y="300" width="1" height="23" fill="#000"/><rect x="789" y="305" width="5" height="14" fill="#000"/><rect x="790" y="306" width="3" height="12" fill="#fff"/><rect x="799" y="288" width="1" height="27" fill="#000"/><rect x="797" y="293" width="5" height="15" fill="#000"/><rect x="807" y="279" width="1" height="33" fill="#000"/><rect x="805" y="292" width="5" height="15" fill="#000"/><rect x="806" y="293" width="3" height="13" fill="#fff"/><rect x="815" y="255" width="1" height="43" fill="#000"/><rect x="813" y="255" width="5" height="33" fill="#000"/><rect x="814" y="256" width="3" height="31" fill="#fff"/><rect x="823" y="245" width="1" height="64" fill="#000"/><rect x="821" y="255" width="5" height="26" fill="#000"/><rect x="831" y="236" width="1" height="34" fill="#000"/><rect x="829" y="236" width="5" height="21" fill="#000"/><rect x="839" y="255" width="1" height="31" fill="#000"/><rect x="837" y="256" width="5" height="19" fill="#000"/><rect x="847" y="301" width="1" height="40" fill="#000"/><rect x="845" y="306" width="5" height="34" fill="#000"/><rect x="855" y="329" width="1" height="24" fill="#000"/><rect x="853" y="337" width="5" height="12" fill="#000"/><rect x="863" y="319" width="1" height="30" fill="#000"/><rect x="861" y="328" width="5" height="21" fill="#000"/><rect x="862" y="329" width="3" height="19" fill="#fff"/><rect x="871" y="327" width="1" height="16" fill="#000"/><rect x="869" y="328" width="5" height="11" fill="#000"/><rect x="879" y="332" width="1" height="60" fill="#000"/><rect x="877" y="336" width="5" height="51" fill="#000"/><rect x="878" y="337" width="3" height="49" fill="#fff"/><rect x="887" y="309" width="1" height="41" fill="#000"/><rect x="885" y="311" width="5" height="25" fill="#000"/><rect x="886" y="312" width="3" height="23" fill="#fff"/><rect x="895" y="306" width="1" height="31" fill="#000"/><rect x="893" y="316" width="5" height="7" fill="#000"/><rect x="903" y="324" width="1" height="27" fill="#000"/><rect x="901" y="325" width="5" height="15" fill="#000"/><rect x="911" y="304" width="1" height="35" fill="#000"/><rect x="909" y="310" width="5" height="13" fill="#000"/><rect x="919" y="282" width="1" height="44" fill="#000"/><rect x="917" y="291" width="5" height="31" fill="#000"/><rect x="918" y="292" width="3" height="29" fill="#fff"/><rect x="927" y="278" width="1" height="38" fill="#000"/><rect x="925" y="279" width="5" height="5" fill="#000"/><rect x="926" y="280" width="3" height="3" fill="#fff"/><rect x="935" y="277" width="1" height="20" fill="#000"/><rect x="933" y="278" width="5" height="7" fill="#000"/><rect x="943" y="259" width="1" height="31" fill="#000"/><rect x="941" y="272" width="5" height="16" fill="#000"/><rect x="942" y="273" width="3" height="14" fill="#fff"/><rect x="951" y="261" width="1" height="21" fill="#000"/><rect x="949" y="267" width="5" height="7" fill="#000"/><rect x="950" y="268" width="3" height="5" fill="#fff"/><rect x="959" y="284" width="1" height="41" fill="#000"/><rect x="957" y="299" width="5" height="14" fill="#000"/><rect x="967" y="308" width="1" height="13" fill="#000"/><rect x="965" y="312" width="5" height="5" fill="#000"/><rect x="975" y="312" width="1" height="41" fill="#000"/><rect x="973" y="317" width="5" height="31" fill="#000"/><rect x="974" y="318" width="3" height="29" fill="#fff"/><rect x="983" y="298" width="1" height="25" fill="#000"/><rect x="981" y="304" width="5" height="12" fill="#000"/><rect x="982" y="305" width="3" height="10" fill="#fff"/><rect x="991" y="286" width="1" height="28" fill="#000"/><rect x="989" y="290" width="5" height="14" fill="#000"/><rect x="999" y="289" width="1" height="18" fill="#000"/><rect x="997" y="302" width="5" height="1" fill="#000"/><rect x="1007" y="292" width="1" height="27" fill="#000"/><rect x="1005" y="298" width="5" height="8" fill="#000"/><rect x="1015" y="303" width="1" height="16" fill="#000"/><rect x="1013" y="305" width="5" height="3" fill="#000"/><rect x="1014" y="306" width="3" height="1" fill="#fff"/><rect x="1023" y="254" width="1" height="44" fill="#000"/><rect x="1021" y="260" width="5" height="38" fill="#000"/><rect x="1022" y="261" width="3" height="36" fill="#fff"/><rect x="1031" y="255" width="1" height="16" fill="#000"/><rect x="1029" y="256" width="5" height="5" fill="#000"/><rect x="1030" y="257" width="3" height="3" fill="#fff"/><rect x="1039" y="255" width="1" height="28" fill="#000"/><rect x="1037" y="262" width="5" height="4" fill="#000"/><rect x="1038" y="263" width="3" height="2" fill="#fff"/><rect x="1047" y="254" width="1" height="21" fill="#000"/><rect x="1045" y="260" width="5" height="11" fill="#000"/><rect x="1055" y="234" width="1" height="32" fill="#000"/><rect x="1053" y="239" width="5" height="23" fill="#000"/><rect x="1054" y="240" width="3" height="21" fill="#fff"/><rect x="1063" y="224" width="1" height="17" fill="#000"/><rect x="1061" y="235" width="5" height="4" fill="#000"/><rect x="1062" y="236" width="3" height="2" fill="#fff"/><rect x="1071" y="203" width="1" height="34" fill="#000"/><rect x="1069" y="211" width="5" height="19" fill="#000"/><rect x="1079" y="226" width="1" height="31" fill="#000"/><rect x="1077" y="229" width="5" height="22" fill="#000"/><rect x="1087" y="225" width="1" height="31" fill="#000"/><rect x="1085" y="231" width="5" height="4" fill="#000"/><rect x="1086" y="232" width="3" height="2" fill="#fff"/><rect x="1095" y="231" width="1" height="21" fill="#000"/><rect x="1093" y="231" width="5" height="14" fill="#000"/><rect x="1103" y="167" width="1" height="30" fill="#000"/><rect x="1101" y="171" width="5" height="14" fill="#000"/><rect x="1102" y="172" width="3" height="12" fill="#fff"/><rect x="1111" y="171" width="1" height="20" fill="#000"/><rect x="1109" y="171" width="5" height="2" fill="#000"/><rect x="1119" y="177" width="1" height="18" fill="#000"/><rect x="1117" y="183" width="5" height="6" fill="#000"/><rect x="1118" y="184" width="3" height="4" fill="#fff"/><rect x="1127" y="170" width="1" height="26" fill="#000"/><rect x="1125" y="172" width="5" height="14" fill="#000"/><rect x="1126" y="173" width="3" height="12" fill="#fff"/><rect x="1135" y="204" width="1" height="22" fill="#000"/><rect x="1133" y="211" width="5" height="9" fill="#000"/><rect x="1134" y="212" width="3" height="7" fill="#fff"/><rect x="1143" y="210" width="1" height="14" fill="#000"/><rect x="1141" y="210" width="5" height="13" fill="#000"/><rect x="1151" y="248" width="1" height="46" fill="#000"/><rect x="1149" y="248" width="5" height="39" fill="#000"/><rect x="1159" y="277" width="1" height="19" fill="#000"/><rect x="1157" y="280" width="5" height="9" fill="#000"/><rect x="1158" y="281" width="3" height="7" fill="#fff"/><rect x="1167" y="266" width="1" height="19" fill="#000"/><rect x="1165" y="271" width="5" height="2" fill="#000"/><rect x="1175" y="270" width="1" height="25" fill="#000"/><rect x="1173" y="271" width="5" height="18" fill="#000"/><rect x="1183" y="311" width="1" height="28" fill="#000"/><rect x="1181" y="319" width="5" height="9" fill="#000"/><rect x="1191" y="315" width="1" height="17" fill="#000"/><rect x="1189" y="324" width="5" height="3" fill="#000"/><rect x="1190" y="325" width="3" height="1" fill="#fff"/><rect x="1199" y="309" width="1" height="28" fill="#000"/><rect x="1197" y="325" width="5" height="4" fill="#000"/><rect x="1198" y="326" width="3" height="2" fill="#fff"/><rect x="1207" y="312" width="1" height="15" fill="#000"/><rect x="1205" y="323" width="5" height="3" fill="#000"/><rect x="1206" y="324" width="3" height="1" fill="#fff"/><rect x="1215" y="272" width="1" height="24" fill="#000"/><rect x="1213" y="277" width="5" height="16" fill="#000"/><rect x="1214" y="278" width="3" height="14" fill="#fff"/><rect x="1223" y="269" width="1" height="13" fill="#000"/><rect x="1221" y="272" width="5" height="7" fill="#000"/><rect x="1222" y="273" width="3" height="5" fill="#fff"/><rect x="1231" y="235" width="1" height="31" fill="#000"/><rect x="1229" y="239" width="5" height="20" fill="#000"/><rect x="1230" y="240" width="3" height="18" fill="#fff"/><rect x="1239" y="238" width="1" height="15" fill="#000"/><rect x="1237" y="239" width="5" height="6" fill="#000"/><rect x="1247" y="272" width="1" height="18" fill="#000"/><rect x="1245" y="275" width="5" height="7" fill="#000"/><rect x="1255" y="279" width="1" height="15" fill="#000"/><rect x="1253" y="282" width="5" height="11" fill="#000"/><rect x="1263" y="273" width="1" height="22" fill="#000"/><rect x="1261" y="281" width="5" height="5" fill="#000"/><rect x="1271" y="277" width="1" height="14" fill="#000"/><rect x="1269" y="283" width="5" height="6" fill="#000"/><rect x="1279" y="277" width="1" height="39" fill="#000"/><rect x="1277" y="307" width="5" height="3" fill="#000"/><rect x="1287" y="306" width="1" height="19" fill="#000"/><rect x="1285" y="309" width="5" height="5" fill="#000"/><rect x="1295" y="301" width="1" height="14" fill="#000"/><rect x="1293" y="306" width="5" height="5" fill="#000"/><rect x="1294" y="307" width="3" height="3" fill="#fff"/><rect x="1303" y="302" width="1" height="9" fill="#000"/><rect x="1301" y="303" width="5" height="3" fill="#000"/><rect x="1302" y="304" width="3" height="1" fill="#fff"/><rect x="1311" y="307" width="1" height="36" fill="#000"/><rect x="1309" y="315" width="5" height="25" fill="#000"/><rect x="1319" y="328" width="1" height="29" fill="#000"/><rect x="1317" y="339" width="5" height="2" fill="#000"/><rect x="1327" y="331" width="1" height="32" fill="#000"/><rect x="1325" y="336" width="5" height="11" fill="#000"/><rect x="1326" y="337" width="3" height="9" fill="#fff"/><rect x="1335" y="315" width="1" height="27" fill="#000"/><rect x="1333" y="328" width="5" height="10" fill="#000"/><rect x="1334" y="329" width="3" height="8" fill="#fff"/><rect x="1343" y="329" width="1" height="22" fill="#000"/><rect x="1341" y="330" width="5" height="7" fill="#000"/><rect x="1342" y="331" width="3" height="5" fill="#fff"/><rect x="1351" y="297" width="1" height="20" fill="#000"/><rect x="1349" y="304" width="5" height="5" fill="#000"/><rect x="1359" y="308" width="1" height="51" fill="#000"/><rect x="1357" y="309" width="5" height="44" fill="#000"/></g><rect x="1262" y="334" width="105" height="11" fill="#00ff00"/><text x="1148.3" y="351.2" textLength="59" lengthAdjust="spacingAndGlyphs" style="font-family:'Liberation Sans',sans-serif;font-size:22.8px;font-weight:bold" fill="#00ff00">25533</text><g stroke="#00ff00" stroke-width="1.45" fill="none" stroke-linecap="round"><path d="M1042 334L1037 340M1041 336H1048L1040 343M1038 338.5L1042 340.5"/><path d="M1044 341L1038 348M1043 343H1052L1039 353M1040 346L1045 348.5"/><path d="M1067 334V336M1059 336.5H1075V339M1059 336.5V339M1065 338L1061 342M1069 338L1073 341.5M1061 344H1073M1067 344V351M1059 351.5H1076"/><path d="M1082 338H1089M1085 334L1082.5 345H1089M1086 340V352.5M1082 348.5L1089 346M1090 338.5H1098M1094 334.5L1092 346.5H1097L1093 351M1091 342.5H1098M1094 349.5L1097 352"/><path d="M1103 339.5H1110M1107 334V352L1105 350.5M1103 346L1110 343M1121 334.5L1113 337V345Q1113 350 1110 353M1113 341.5H1122M1118 341.5V353"/><path d="M1135 334V341M1135 337.5H1143M1129 341.5H1141V347H1129ZM1127 352L1129 349.5M1132 350L1133 352.5M1137 350L1138 352.5M1141 350L1143 352.5"/></g><path d="M10 39.5L13.5 35.5L17 39.5Z" fill="#000"/><text x="22" y="40" textLength="41.09" lengthAdjust="spacingAndGlyphs" style="font-family:'Liberation Sans',sans-serif;font-size:9.5px" fill="#000" stroke="#000" stroke-width="0.12">HK50-,H4</text><text x="69.4" y="40" textLength="140.60" lengthAdjust="spacingAndGlyphs" style="font-family:'Liberation Sans',sans-serif;font-size:9.5px" fill="#000" stroke="#000" stroke-width="0.12">25856.0 25858.0 25342.0 25409.0</text><path d="M1365 29H1373L1369 33Z" fill="#a0a0a0"/><rect x="1595" y="299" width="38" height="11" fill="#ff4500"/><text x="1598" y="307.5" textLength="33.50" lengthAdjust="spacingAndGlyphs" style="font-family:'Liberation Sans',sans-serif;font-size:9.5px" fill="#fff" stroke="#fff" stroke-width="0.12">25895.1</text><rect x="1595" y="320" width="38" height="11" fill="#ff4500"/><text x="1598" y="328.5" textLength="33.50" lengthAdjust="spacingAndGlyphs" style="font-family:'Liberation Sans',sans-serif;font-size:9.5px" fill="#fff" stroke="#fff" stroke-width="0.12">25678.2</text><rect x="1595" y="334" width="38" height="11" fill="#32cd32"/><text x="1598" y="342.5" textLength="33.50" lengthAdjust="spacingAndGlyphs" style="font-family:'Liberation Sans',sans-serif;font-size:9.5px" fill="#fff" stroke="#fff" stroke-width="0.12">25533.6</text><rect x="1595" y="347" width="38" height="11" fill="#000000"/><text x="1598" y="355.5" textLength="33.50" lengthAdjust="spacingAndGlyphs" style="font-family:'Liberation Sans',sans-serif;font-size:9.5px" fill="#fff" stroke="#fff" stroke-width="0.12">25409.0</text><rect x="1595" y="361" width="38" height="11" fill="#0000ff"/><text x="1598" y="369.5" textLength="33.50" lengthAdjust="spacingAndGlyphs" style="font-family:'Liberation Sans',sans-serif;font-size:9.5px" fill="#fff" stroke="#fff" stroke-width="0.12">25254.7</text><rect x="1595" y="374" width="38" height="11" fill="#0000ff"/><text x="1598" y="382.5" textLength="33.50" lengthAdjust="spacingAndGlyphs" style="font-family:'Liberation Sans',sans-serif;font-size:9.5px" fill="#fff" stroke="#fff" stroke-width="0.12">25120.4</text><defs><linearGradient id="gp" gradientUnits="userSpaceOnUse" x1="0" y1="48" x2="0" y2="112"><stop offset="0" stop-color="#ff5656"/><stop offset="0.38" stop-color="#e43a3a"/><stop offset="1" stop-color="#b00404"/></linearGradient><linearGradient id="gg" x1="0" y1="0" x2="0" y2="1"><stop offset="0" stop-color="#f4f4f4"/><stop offset="1" stop-color="#e0e0e0"/></linearGradient></defs><path d="M10.5 48.5H61.5V72.5H118.5V111.5H10.5Z" fill="url(#gp)" stroke="#b80000" stroke-width="1"/><path d="M177.5 48.5H228.5V111.5H121.5V72.5H177.5Z" fill="url(#gp)" stroke="#b80000" stroke-width="1"/><rect x="14" y="71" width="44" height="1" fill="#800000"/><rect x="14" y="72" width="44" height="1" fill="#ff7070"/><rect x="181" y="71" width="44" height="1" fill="#800000"/><rect x="181" y="72" width="44" height="1" fill="#ff7070"/><text x="22" y="63.5" textLength="26" lengthAdjust="spacingAndGlyphs" style="font-family:'Liberation Sans',sans-serif;font-size:11px" fill="#fff">SELL</text><text x="190.5" y="63.5" textLength="23.5" lengthAdjust="spacingAndGlyphs" style="font-family:'Liberation Sans',sans-serif;font-size:11px" fill="#fff">BUY</text><text x="26" y="103" textLength="34.5" lengthAdjust="spacingAndGlyphs" style="font-family:'Liberation Sans',sans-serif;font-size:12.5px;font-weight:bold" fill="#fff">25407</text><text x="136" y="103" textLength="35" lengthAdjust="spacingAndGlyphs" style="font-family:'Liberation Sans',sans-serif;font-size:12.5px;font-weight:bold" fill="#fff">25422</text><text x="63.4" y="103.3" style="font-family:'Liberation Sans',sans-serif;font-size:33px" fill="#fff">.</text><text x="71.6" y="103.3" textLength="17" lengthAdjust="spacingAndGlyphs" style="font-family:'Liberation Sans',sans-serif;font-size:33px" fill="#fff">5</text><text x="174.2" y="103.3" style="font-family:'Liberation Sans',sans-serif;font-size:33px" fill="#fff">.</text><text x="182.4" y="103.3" textLength="17" lengthAdjust="spacingAndGlyphs" style="font-family:'Liberation Sans',sans-serif;font-size:33px" fill="#fff">5</text><rect x="64.5" y="48.5" width="110" height="21" fill="#fff" stroke="#a8a8a8" stroke-width="1"/><rect x="65" y="49" width="20.5" height="20" fill="url(#gg)"/><rect x="85.5" y="49" width="1" height="20" fill="#b0b0b0"/><rect x="153.5" y="49" width="1" height="20" fill="#b0b0b0"/><rect x="154.5" y="49" width="19.5" height="20" fill="url(#gg)"/><path d="M71.5 57.5H77.5L74.5 61Z" fill="#000"/><path d="M160.5 61H166.5L163.5 57.5Z" fill="#000"/><text x="126.3" y="63.5" textLength="23.3" lengthAdjust="spacingAndGlyphs" style="font-family:'Liberation Sans',sans-serif;font-size:11px" fill="#000">0.10</text><g clip-path="url(#cd)" shape-rendering="crispEdges"><rect x="7" y="514" width="1" height="16" fill="#c0c0c0"/><rect x="15" y="514" width="1" height="16" fill="#c0c0c0"/><rect x="23" y="514" width="1" height="15" fill="#c0c0c0"/><rect x="31" y="514" width="1" height="5" fill="#c0c0c0"/><rect x="39" y="513" width="1" height="2" fill="#c0c0c0"/><rect x="47" y="506" width="1" height="9" fill="#c0c0c0"/><rect x="55" y="501" width="1" height="14" fill="#c0c0c0"/><rect x="63" y="497" width="1" height="18" fill="#c0c0c0"/><rect x="71" y="494" width="1" height="21" fill="#c0c0c0"/><rect x="79" y="494" width="1" height="21" fill="#c0c0c0"/><rect x="87" y="496" width="1" height="19" fill="#c0c0c0"/><rect x="95" y="500" width="1" height="15" fill="#c0c0c0"/><rect x="103" y="505" width="1" height="10" fill="#c0c0c0"/><rect x="111" y="511" width="1" height="4" fill="#c0c0c0"/><rect x="119" y="514" width="1" height="1" fill="#c0c0c0"/><rect x="127" y="514" width="1" height="3" fill="#c0c0c0"/><rect x="135" y="514" width="1" height="2" fill="#c0c0c0"/><rect x="143" y="514" width="1" height="8" fill="#c0c0c0"/><rect x="151" y="514" width="1" height="16" fill="#c0c0c0"/><rect x="159" y="514" width="1" height="24" fill="#c0c0c0"/><rect x="167" y="514" width="1" height="30" fill="#c0c0c0"/><rect x="175" y="514" width="1" height="38" fill="#c0c0c0"/><rect x="183" y="514" width="1" height="43" fill="#c0c0c0"/><rect x="191" y="514" width="1" height="47" fill="#c0c0c0"/><rect x="199" y="514" width="1" height="51" fill="#c0c0c0"/><rect x="207" y="514" width="1" height="55" fill="#c0c0c0"/><rect x="215" y="514" width="1" height="60" fill="#c0c0c0"/><rect x="223" y="514" width="1" height="64" fill="#c0c0c0"/><rect x="231" y="514" width="1" height="66" fill="#c0c0c0"/><rect x="239" y="514" width="1" height="61" fill="#c0c0c0"/><rect x="247" y="514" width="1" height="53" fill="#c0c0c0"/><rect x="255" y="514" width="1" height="44" fill="#c0c0c0"/><rect x="263" y="514" width="1" height="34" fill="#c0c0c0"/><rect x="271" y="514" width="1" height="34" fill="#c0c0c0"/><rect x="279" y="514" width="1" height="31" fill="#c0c0c0"/><rect x="287" y="514" width="1" height="30" fill="#c0c0c0"/><rect x="295" y="514" width="1" height="27" fill="#c0c0c0"/><rect x="303" y="514" width="1" height="19" fill="#c0c0c0"/><rect x="311" y="514" width="1" height="10" fill="#c0c0c0"/><rect x="319" y="514" width="1" height="6" fill="#c0c0c0"/><rect x="327" y="514" width="1" height="1" fill="#c0c0c0"/><rect x="335" y="508" width="1" height="7" fill="#c0c0c0"/><rect x="343" y="499" width="1" height="16" fill="#c0c0c0"/><rect x="351" y="497" width="1" height="18" fill="#c0c0c0"/><rect x="359" y="497" width="1" height="18" fill="#c0c0c0"/><rect x="367" y="491" width="1" height="24" fill="#c0c0c0"/><rect x="375" y="488" width="1" height="27" fill="#c0c0c0"/><rect x="383" y="487" width="1" height="28" fill="#c0c0c0"/><rect x="391" y="488" width="1" height="27" fill="#c0c0c0"/><rect x="399" y="485" width="1" height="30" fill="#c0c0c0"/><rect x="407" y="484" width="1" height="31" fill="#c0c0c0"/><rect x="415" y="491" width="1" height="24" fill="#c0c0c0"/><rect x="423" y="501" width="1" height="14" fill="#c0c0c0"/><rect x="431" y="510" width="1" height="5" fill="#c0c0c0"/><rect x="439" y="514" width="1" height="1" fill="#c0c0c0"/><rect x="447" y="514" width="1" height="11" fill="#c0c0c0"/><rect x="455" y="514" width="1" height="19" fill="#c0c0c0"/><rect x="463" y="514" width="1" height="27" fill="#c0c0c0"/><rect x="471" y="514" width="1" height="32" fill="#c0c0c0"/><rect x="479" y="514" width="1" height="37" fill="#c0c0c0"/><rect x="487" y="514" width="1" height="45" fill="#c0c0c0"/><rect x="495" y="514" width="1" height="48" fill="#c0c0c0"/><rect x="503" y="514" width="1" height="52" fill="#c0c0c0"/><rect x="511" y="514" width="1" height="53" fill="#c0c0c0"/><rect x="519" y="514" width="1" height="54" fill="#c0c0c0"/><rect x="527" y="514" width="1" height="66" fill="#c0c0c0"/><rect x="535" y="514" width="1" height="76" fill="#c0c0c0"/><rect x="543" y="514" width="1" height="78" fill="#c0c0c0"/><rect x="551" y="514" width="1" height="77" fill="#c0c0c0"/><rect x="559" y="514" width="1" height="78" fill="#c0c0c0"/><rect x="567" y="514" width="1" height="79" fill="#c0c0c0"/><rect x="575" y="514" width="1" height="80" fill="#c0c0c0"/><rect x="583" y="514" width="1" height="79" fill="#c0c0c0"/><rect x="591" y="514" width="1" height="78" fill="#c0c0c0"/><rect x="599" y="514" width="1" height="73" fill="#c0c0c0"/><rect x="607" y="514" width="1" height="72" fill="#c0c0c0"/><rect x="615" y="514" width="1" height="68" fill="#c0c0c0"/><rect x="623" y="514" width="1" height="55" fill="#c0c0c0"/><rect x="631" y="514" width="1" height="44" fill="#c0c0c0"/><rect x="639" y="514" width="1" height="43" fill="#c0c0c0"/><rect x="647" y="514" width="1" height="44" fill="#c0c0c0"/><rect x="655" y="514" width="1" height="42" fill="#c0c0c0"/><rect x="663" y="514" width="1" height="45" fill="#c0c0c0"/><rect x="671" y="514" width="1" height="51" fill="#c0c0c0"/><rect x="679" y="514" width="1" height="55" fill="#c0c0c0"/><rect x="687" y="514" width="1" height="61" fill="#c0c0c0"/><rect x="695" y="514" width="1" height="65" fill="#c0c0c0"/><rect x="703" y="514" width="1" height="66" fill="#c0c0c0"/><rect x="711" y="514" width="1" height="66" fill="#c0c0c0"/><rect x="719" y="514" width="1" height="64" fill="#c0c0c0"/><rect x="727" y="514" width="1" height="65" fill="#c0c0c0"/><rect x="735" y="514" width="1" height="63" fill="#c0c0c0"/><rect x="743" y="514" width="1" height="58" fill="#c0c0c0"/><rect x="751" y="514" width="1" height="47" fill="#c0c0c0"/><rect x="759" y="514" width="1" height="39" fill="#c0c0c0"/><rect x="767" y="514" width="1" height="23" fill="#c0c0c0"/><rect x="775" y="514" width="1" height="4" fill="#c0c0c0"/><rect x="783" y="513" width="1" height="2" fill="#c0c0c0"/><rect x="791" y="508" width="1" height="7" fill="#c0c0c0"/><rect x="799" y="503" width="1" height="12" fill="#c0c0c0"/><rect x="807" y="498" width="1" height="17" fill="#c0c0c0"/><rect x="815" y="489" width="1" height="26" fill="#c0c0c0"/><rect x="823" y="486" width="1" height="29" fill="#c0c0c0"/><rect x="831" y="480" width="1" height="35" fill="#c0c0c0"/><rect x="839" y="479" width="1" height="36" fill="#c0c0c0"/><rect x="847" y="487" width="1" height="28" fill="#c0c0c0"/><rect x="855" y="495" width="1" height="20" fill="#c0c0c0"/><rect x="863" y="499" width="1" height="16" fill="#c0c0c0"/><rect x="871" y="503" width="1" height="12" fill="#c0c0c0"/><rect x="879" y="507" width="1" height="8" fill="#c0c0c0"/><rect x="887" y="506" width="1" height="9" fill="#c0c0c0"/><rect x="895" y="507" width="1" height="8" fill="#c0c0c0"/><rect x="903" y="510" width="1" height="5" fill="#c0c0c0"/><rect x="911" y="510" width="1" height="5" fill="#c0c0c0"/><rect x="919" y="507" width="1" height="8" fill="#c0c0c0"/><rect x="927" y="502" width="1" height="13" fill="#c0c0c0"/><rect x="935" y="499" width="1" height="16" fill="#c0c0c0"/><rect x="943" y="495" width="1" height="20" fill="#c0c0c0"/><rect x="951" y="492" width="1" height="23" fill="#c0c0c0"/><rect x="959" y="496" width="1" height="19" fill="#c0c0c0"/><rect x="967" y="499" width="1" height="16" fill="#c0c0c0"/><rect x="975" y="503" width="1" height="12" fill="#c0c0c0"/><rect x="983" y="504" width="1" height="11" fill="#c0c0c0"/><rect x="991" y="504" width="1" height="11" fill="#c0c0c0"/><rect x="999" y="505" width="1" height="10" fill="#c0c0c0"/><rect x="1007" y="506" width="1" height="9" fill="#c0c0c0"/><rect x="1015" y="507" width="1" height="8" fill="#c0c0c0"/><rect x="1023" y="501" width="1" height="14" fill="#c0c0c0"/><rect x="1031" y="497" width="1" height="18" fill="#c0c0c0"/><rect x="1039" y="494" width="1" height="21" fill="#c0c0c0"/><rect x="1047" y="494" width="1" height="21" fill="#c0c0c0"/><rect x="1055" y="489" width="1" height="26" fill="#c0c0c0"/><rect x="1063" y="485" width="1" height="30" fill="#c0c0c0"/><rect x="1071" y="482" width="1" height="33" fill="#c0c0c0"/><rect x="1079" y="482" width="1" height="33" fill="#c0c0c0"/><rect x="1087" y="480" width="1" height="35" fill="#c0c0c0"/><rect x="1095" y="481" width="1" height="34" fill="#c0c0c0"/><rect x="1103" y="472" width="1" height="43" fill="#c0c0c0"/><rect x="1111" y="465" width="1" height="50" fill="#c0c0c0"/><rect x="1119" y="462" width="1" height="53" fill="#c0c0c0"/><rect x="1127" y="459" width="1" height="56" fill="#c0c0c0"/><rect x="1135" y="463" width="1" height="52" fill="#c0c0c0"/><rect x="1143" y="468" width="1" height="47" fill="#c0c0c0"/><rect x="1151" y="481" width="1" height="34" fill="#c0c0c0"/><rect x="1159" y="490" width="1" height="25" fill="#c0c0c0"/><rect x="1167" y="497" width="1" height="18" fill="#c0c0c0"/><rect x="1175" y="505" width="1" height="10" fill="#c0c0c0"/><rect x="1183" y="514" width="1" height="2" fill="#c0c0c0"/><rect x="1191" y="514" width="1" height="10" fill="#c0c0c0"/><rect x="1199" y="514" width="1" height="16" fill="#c0c0c0"/><rect x="1207" y="514" width="1" height="21" fill="#c0c0c0"/><rect x="1215" y="514" width="1" height="19" fill="#c0c0c0"/><rect x="1223" y="514" width="1" height="16" fill="#c0c0c0"/><rect x="1231" y="514" width="1" height="8" fill="#c0c0c0"/><rect x="1239" y="514" width="1" height="3" fill="#c0c0c0"/><rect x="1247" y="514" width="1" height="5" fill="#c0c0c0"/><rect x="1255" y="514" width="1" height="8" fill="#c0c0c0"/><rect x="1263" y="514" width="1" height="8" fill="#c0c0c0"/><rect x="1271" y="514" width="1" height="9" fill="#c0c0c0"/><rect x="1279" y="514" width="1" height="12" fill="#c0c0c0"/><rect x="1287" y="514" width="1" height="16" fill="#c0c0c0"/><rect x="1295" y="514" width="1" height="16" fill="#c0c0c0"/><rect x="1303" y="514" width="1" height="18" fill="#c0c0c0"/><rect x="1311" y="514" width="1" height="23" fill="#c0c0c0"/><rect x="1319" y="514" width="1" height="27" fill="#c0c0c0"/><rect x="1327" y="514" width="1" height="29" fill="#c0c0c0"/><rect x="1335" y="514" width="1" height="29" fill="#c0c0c0"/><rect x="1343" y="514" width="1" height="29" fill="#c0c0c0"/><rect x="1351" y="514" width="1" height="26" fill="#c0c0c0"/><rect x="1359" y="514" width="1" height="29" fill="#c0c0c0"/></g><polyline clip-path="url(#cd)" points="7.5,546.73 15.5,542.36 23.5,538.00 31.5,533.64 39.5,529.27 47.5,524.80 55.5,520.36 63.5,516.49 71.5,512.86 79.5,508.90 87.5,505.12 95.5,501.94 103.5,500.53 111.5,500.44 119.5,501.51 127.5,503.45 135.5,505.69 143.5,508.86 151.5,513.00 159.5,517.84 167.5,522.86 175.5,528.22 183.5,533.40 191.5,538.48 199.5,543.72 207.5,549.49 215.5,555.14 223.5,560.34 231.5,564.85 239.5,568.14 247.5,569.70 255.5,569.74 263.5,568.39 271.5,566.43 279.5,563.82 287.5,560.48 295.5,556.09 303.5,550.63 311.5,544.77 319.5,539.35 327.5,534.45 335.5,529.83 343.5,524.32 351.5,518.82 359.5,513.38 367.5,507.86 375.5,502.93 383.5,498.97 391.5,495.64 399.5,492.58 407.5,490.16 415.5,489.40 423.5,489.87 431.5,491.19 439.5,493.60 447.5,497.74 455.5,502.83 463.5,508.77 471.5,515.66 479.5,523.39 487.5,531.13 495.5,538.04 503.5,544.30 511.5,550.25 519.5,555.21 527.5,560.65 535.5,566.28 543.5,571.51 551.5,575.90 559.5,579.55 567.5,582.77 575.5,585.63 583.5,588.33 591.5,590.96 599.5,591.88 607.5,591.48 615.5,590.41 623.5,588.03 631.5,584.28 639.5,580.33 647.5,576.38 655.5,572.44 663.5,568.93 671.5,566.53 679.5,564.72 687.5,563.88 695.5,564.91 703.5,567.26 711.5,569.72 719.5,571.65 727.5,573.93 735.5,575.70 743.5,576.30 751.5,575.22 759.5,572.74 767.5,567.94 775.5,560.97 783.5,553.58 791.5,545.92 799.5,537.46 807.5,528.89 815.5,519.81 823.5,511.56 831.5,503.42 839.5,496.93 847.5,493.29 855.5,491.18 863.5,490.17 871.5,490.18 879.5,490.99 887.5,492.87 895.5,495.05 903.5,498.22 911.5,501.59 919.5,503.80 927.5,504.61 935.5,504.70 943.5,503.87 951.5,502.18 959.5,501.15 967.5,500.43 975.5,499.71 983.5,499.10 991.5,498.79 999.5,499.04 1007.5,499.75 1015.5,501.03 1023.5,502.05 1031.5,502.14 1039.5,501.61 1047.5,500.62 1055.5,498.83 1063.5,496.61 1071.5,494.01 1079.5,491.36 1087.5,488.50 1095.5,486.43 1103.5,483.78 1111.5,480.57 1119.5,477.02 1127.5,473.76 1135.5,471.39 1143.5,469.81 1151.5,469.55 1159.5,470.53 1167.5,472.34 1175.5,475.97 1183.5,481.61 1191.5,488.52 1199.5,496.55 1207.5,504.70 1215.5,511.96 1223.5,517.39 1231.5,521.15 1239.5,523.74 1247.5,525.58 1255.5,526.46 1263.5,526.39 1271.5,525.72 1279.5,524.79 1287.5,524.45 1295.5,524.51 1303.5,525.53 1311.5,527.69 1319.5,530.09 1327.5,532.34 1335.5,534.64 1343.5,536.76 1351.5,538.20 1359.5,539.56" fill="none" stroke="#ff0000" stroke-width="1" stroke-dasharray="3.5 2.5" shape-rendering="crispEdges"/><text x="11" y="462.5" textLength="132.41" lengthAdjust="spacingAndGlyphs" style="font-family:'Liberation Sans',sans-serif;font-size:9.5px" fill="#000" stroke="#000" stroke-width="0.12">MACD(12,26,9) -175.06 -150.43</text><text x="1597" y="461" textLength="28.35" lengthAdjust="spacingAndGlyphs" style="font-family:'Liberation Sans',sans-serif;font-size:9.5px" fill="#000" stroke="#000" stroke-width="0.12">376.07</text><rect x="1594" y="514" width="2" height="1" fill="#000"/><rect x="1594" y="452" width="2" height="1" fill="#000"/><rect x="1594" y="604" width="2" height="1" fill="#000"/><text x="1597" y="518" textLength="18.04" lengthAdjust="spacingAndGlyphs" style="font-family:'Liberation Sans',sans-serif;font-size:9.5px" fill="#000" stroke="#000" stroke-width="0.12">0.00</text><text x="1597" y="597.5" textLength="31.44" lengthAdjust="spacingAndGlyphs" style="font-family:'Liberation Sans',sans-serif;font-size:9.5px" fill="#000" stroke="#000" stroke-width="0.12">-517.93</text><line x1="8" y1="634.5" x2="1593" y2="634.5" stroke="#c0c0c0" stroke-width="1" stroke-dasharray="3 3" shape-rendering="crispEdges"/><text x="1596" y="637.5" textLength="9.81" lengthAdjust="spacingAndGlyphs" style="font-family:'Liberation Sans',sans-serif;font-size:9.5px" fill="#000" stroke="#000" stroke-width="0.12">80</text><line x1="8" y1="678.5" x2="1593" y2="678.5" stroke="#c0c0c0" stroke-width="1" stroke-dasharray="3 3" shape-rendering="crispEdges"/><text x="1596" y="681.5" textLength="9.81" lengthAdjust="spacingAndGlyphs" style="font-family:'Liberation Sans',sans-serif;font-size:9.5px" fill="#000" stroke="#000" stroke-width="0.12">50</text><line x1="8" y1="730.5" x2="1593" y2="730.5" stroke="#c0c0c0" stroke-width="1" stroke-dasharray="3 3" shape-rendering="crispEdges"/><text x="1596" y="733.5" textLength="9.81" lengthAdjust="spacingAndGlyphs" style="font-family:'Liberation Sans',sans-serif;font-size:9.5px" fill="#000" stroke="#000" stroke-width="0.12">15</text><text x="1597" y="613.5" textLength="15.46" lengthAdjust="spacingAndGlyphs" style="font-family:'Liberation Sans',sans-serif;font-size:9.5px" fill="#000" stroke="#000" stroke-width="0.12">100</text><text x="1597" y="749.5" textLength="5.15" lengthAdjust="spacingAndGlyphs" style="font-family:'Liberation Sans',sans-serif;font-size:9.5px" fill="#000" stroke="#000" stroke-width="0.12">0</text><polyline clip-path="url(#cr)" points="7.5,680 15.5,686.2 23.5,683.1 31.5,662.4 39.5,661.3 47.5,660.5 55.5,661.5 63.5,660.5 71.5,662.9 79.5,669.1 87.5,673.8 95.5,683.1 103.5,686.7 111.5,692.5 119.5,689.3 127.5,689.3 135.5,678.9 143.5,693.2 151.5,703.4 159.5,704.5 167.5,705.4 175.5,712.3 183.5,705.4 191.5,708.5 199.5,709.6 207.5,712 215.5,716.3 223.5,716.3 231.5,712 239.5,693.2 247.5,683.9 255.5,676.9 263.5,674.5 271.5,688.3 279.5,685.5 287.5,691.4 295.5,680 303.5,671.1 311.5,669.6 319.5,670.2 327.5,668.6 335.5,661.3 343.5,656.6 351.5,669.1 359.5,673 367.5,661.8 375.5,666 383.5,669.6 391.5,669.6 399.5,664.4 407.5,665.5 415.5,683.1 423.5,691.4 431.5,691.4 439.5,688.3 447.5,698.2 455.5,699.5 463.5,700.3 471.5,701.3 479.5,704.2 487.5,707.3 495.5,701.3 503.5,706 511.5,697.1 519.5,700.7 527.5,715.4 535.5,716.3 543.5,702.9 551.5,699.5 559.5,702.3 567.5,705.4 575.5,705.4 583.5,703.8 591.5,703.4 599.5,702.3 607.5,703.4 615.5,699.5 623.5,673.3 631.5,674.5 639.5,688.9 647.5,695.1 655.5,688.6 663.5,695.6 671.5,703.4 679.5,699.5 687.5,704.2 695.5,702.3 703.5,701.3 711.5,699.8 719.5,698.2 727.5,702.3 735.5,696 743.5,690.1 751.5,675.3 759.5,677.7 767.5,662.9 775.5,654.6 783.5,672.2 791.5,670.2 799.5,670.2 807.5,667.1 815.5,661.3 823.5,667.1 831.5,663.3 839.5,667.5 847.5,682 855.5,684.2 863.5,679.2 871.5,682.3 879.5,681.6 887.5,675.3 895.5,678.4 903.5,682 911.5,678 919.5,670.2 927.5,667.5 935.5,669.1 943.5,666.4 951.5,665.2 959.5,679.2 967.5,680.5 975.5,680 983.5,676.4 991.5,676.4 999.5,676.4 1007.5,677.7 1015.5,677.3 1023.5,662.4 1031.5,661.3 1039.5,664.4 1047.5,667.1 1055.5,658.6 1063.5,657.4 1071.5,655.5 1079.5,666 1087.5,660.8 1095.5,666 1103.5,649.3 1111.5,649.6 1119.5,654 1127.5,652.4 1135.5,666.8 1143.5,670.6 1151.5,689.3 1159.5,687.3 1167.5,684.2 1175.5,688.6 1183.5,697.1 1191.5,696.4 1199.5,697.1 1207.5,696.4 1215.5,680 1223.5,678.4 1231.5,669.6 1239.5,671.1 1247.5,682.3 1255.5,685.5 1263.5,683.6 1271.5,683.6 1279.5,690.4 1287.5,691.4 1295.5,688.6 1303.5,687.3 1311.5,697.1 1319.5,698.2 1327.5,695.6 1335.5,692.9 1343.5,692.5 1351.5,683.6 1359.5,695.6" fill="none" stroke="#1e90ff" stroke-width="1" shape-rendering="crispEdges"/><text x="11" y="615.5" textLength="68.02" lengthAdjust="spacingAndGlyphs" style="font-family:'Liberation Sans',sans-serif;font-size:9.5px" fill="#000" stroke="#000" stroke-width="0.12">RSI(14) 37.8816</text><rect x="7" y="754" width="1" height="3" fill="#000"/><text x="6" y="765.5" textLength="52.82" lengthAdjust="spacingAndGlyphs" style="font-family:'Liberation Sans',sans-serif;font-size:9.5px" fill="#000" stroke="#000" stroke-width="0.12">23 Aug 2018</text><rect x="71" y="754" width="1" height="3" fill="#000"/><text x="70" y="765.5" textLength="55.43" lengthAdjust="spacingAndGlyphs" style="font-family:'Liberation Sans',sans-serif;font-size:9.5px" fill="#000" stroke="#000" stroke-width="0.12">29 Aug 05:00</text><rect x="135" y="754" width="1" height="3" fill="#000"/><text x="134" y="765.5" textLength="50.72" lengthAdjust="spacingAndGlyphs" style="font-family:'Liberation Sans',sans-serif;font-size:9.5px" fill="#000" stroke="#000" stroke-width="0.12">4 Sep 05:00</text><rect x="199" y="754" width="1" height="3" fill="#000"/><text x="198" y="765.5" textLength="55.95" lengthAdjust="spacingAndGlyphs" style="font-family:'Liberation Sans',sans-serif;font-size:9.5px" fill="#000" stroke="#000" stroke-width="0.12">10 Sep 05:00</text><rect x="263" y="754" width="1" height="3" fill="#000"/><text x="262" y="765.5" textLength="55.95" lengthAdjust="spacingAndGlyphs" style="font-family:'Liberation Sans',sans-serif;font-size:9.5px" fill="#000" stroke="#000" stroke-width="0.12">14 Sep 05:00</text><rect x="327" y="754" width="1" height="3" fill="#000"/><text x="326" y="765.5" textLength="55.95" lengthAdjust="spacingAndGlyphs" style="font-family:'Liberation Sans',sans-serif;font-size:9.5px" fill="#000" stroke="#000" stroke-width="0.12">20 Sep 05:00</text><rect x="391" y="754" width="1" height="3" fill="#000"/><text x="390" y="765.5" textLength="55.95" lengthAdjust="spacingAndGlyphs" style="font-family:'Liberation Sans',sans-serif;font-size:9.5px" fill="#000" stroke="#000" stroke-width="0.12">27 Sep 05:00</text><rect x="455" y="754" width="1" height="3" fill="#000"/><text x="454" y="765.5" textLength="48.62" lengthAdjust="spacingAndGlyphs" style="font-family:'Liberation Sans',sans-serif;font-size:9.5px" fill="#000" stroke="#000" stroke-width="0.12">4 Oct 05:00</text><rect x="519" y="754" width="1" height="3" fill="#000"/><text x="518" y="765.5" textLength="53.85" lengthAdjust="spacingAndGlyphs" style="font-family:'Liberation Sans',sans-serif;font-size:9.5px" fill="#000" stroke="#000" stroke-width="0.12">10 Oct 05:00</text><rect x="583" y="754" width="1" height="3" fill="#000"/><text x="582" y="765.5" textLength="53.85" lengthAdjust="spacingAndGlyphs" style="font-family:'Liberation Sans',sans-serif;font-size:9.5px" fill="#000" stroke="#000" stroke-width="0.12">16 Oct 05:00</text><rect x="647" y="754" width="1" height="3" fill="#000"/><text x="646" y="765.5" textLength="53.85" lengthAdjust="spacingAndGlyphs" style="font-family:'Liberation Sans',sans-serif;font-size:9.5px" fill="#000" stroke="#000" stroke-width="0.12">23 Oct 05:00</text><rect x="711" y="754" width="1" height="3" fill="#000"/><text x="710" y="765.5" textLength="53.85" lengthAdjust="spacingAndGlyphs" style="font-family:'Liberation Sans',sans-serif;font-size:9.5px" fill="#000" stroke="#000" stroke-width="0.12">29 Oct 05:00</text><rect x="775" y="754" width="1" height="3" fill="#000"/><text x="774" y="765.5" textLength="50.71" lengthAdjust="spacingAndGlyphs" style="font-family:'Liberation Sans',sans-serif;font-size:9.5px" fill="#000" stroke="#000" stroke-width="0.12">2 Nov 05:00</text><rect x="839" y="754" width="1" height="3" fill="#000"/><text x="838" y="765.5" textLength="50.71" lengthAdjust="spacingAndGlyphs" style="font-family:'Liberation Sans',sans-serif;font-size:9.5px" fill="#000" stroke="#000" stroke-width="0.12">8 Nov 05:00</text><rect x="903" y="754" width="1" height="3" fill="#000"/><text x="902" y="765.5" textLength="55.94" lengthAdjust="spacingAndGlyphs" style="font-family:'Liberation Sans',sans-serif;font-size:9.5px" fill="#000" stroke="#000" stroke-width="0.12">14 Nov 05:00</text><rect x="967" y="754" width="1" height="3" fill="#000"/><text x="966" y="765.5" textLength="55.94" lengthAdjust="spacingAndGlyphs" style="font-family:'Liberation Sans',sans-serif;font-size:9.5px" fill="#000" stroke="#000" stroke-width="0.12">20 Nov 05:00</text><rect x="1031" y="754" width="1" height="3" fill="#000"/><text x="1030" y="765.5" textLength="55.94" lengthAdjust="spacingAndGlyphs" style="font-family:'Liberation Sans',sans-serif;font-size:9.5px" fill="#000" stroke="#000" stroke-width="0.12">26 Nov 05:00</text><rect x="1095" y="754" width="1" height="3" fill="#000"/><text x="1094" y="765.5" textLength="55.94" lengthAdjust="spacingAndGlyphs" style="font-family:'Liberation Sans',sans-serif;font-size:9.5px" fill="#000" stroke="#000" stroke-width="0.12">30 Nov 05:00</text><rect x="1159" y="754" width="1" height="3" fill="#000"/><text x="1158" y="765.5" textLength="50.71" lengthAdjust="spacingAndGlyphs" style="font-family:'Liberation Sans',sans-serif;font-size:9.5px" fill="#000" stroke="#000" stroke-width="0.12">6 Dec 05:00</text><rect x="1223" y="754" width="1" height="3" fill="#000"/><text x="1222" y="765.5" textLength="55.94" lengthAdjust="spacingAndGlyphs" style="font-family:'Liberation Sans',sans-serif;font-size:9.5px" fill="#000" stroke="#000" stroke-width="0.12">12 Dec 05:00</text><rect x="1287" y="754" width="1" height="3" fill="#000"/><text x="1286" y="765.5" textLength="55.94" lengthAdjust="spacingAndGlyphs" style="font-family:'Liberation Sans',sans-serif;font-size:9.5px" fill="#000" stroke="#000" stroke-width="0.12">18 Dec 05:00</text><rect x="1351" y="754" width="1" height="3" fill="#000"/><text x="1350" y="765.5" textLength="55.94" lengthAdjust="spacingAndGlyphs" style="font-family:'Liberation Sans',sans-serif;font-size:9.5px" fill="#000" stroke="#000" stroke-width="0.12">27 Dec 01:15</text>
</svg>
</body></html>
